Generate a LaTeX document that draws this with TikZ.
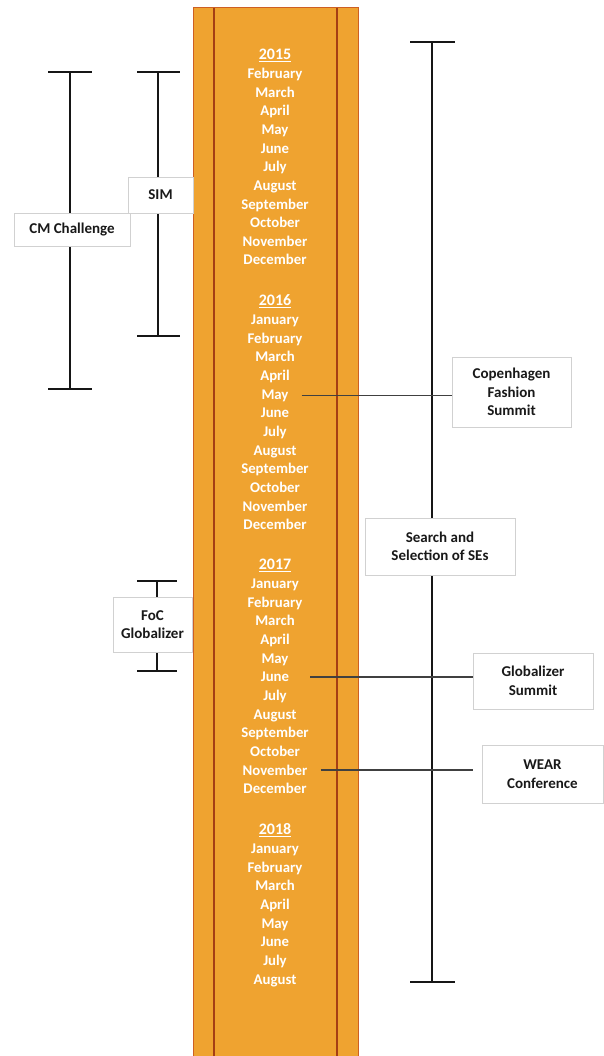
\documentclass[tikz,border=0pt]{standalone}
\usepackage{fontspec}
\setmainfont{Carlito}
\definecolor{barfill}{RGB}{239,163,48}
\definecolor{baredge}{RGB}{205,95,35}
\definecolor{barline}{RGB}{165,62,20}
\definecolor{rulecol}{RGB}{22,22,22}
\newcommand\mname[1]{\ifcase#1\or January\or February\or March\or April\or May\or June\or July\or August\or September\or October\or November\or December\fi}

\begin{document}
\begin{tikzpicture}[x=1pt,y=-1pt,
  month/.style={text=white, font=\fontsize{14.8}{17}\selectfont\bfseries, anchor=base, inner sep=1pt},
  yearlbl/.style={month, font=\fontsize{16}{17}\selectfont\bfseries},
  eventbox/.style={draw=black!18, fill=white, align=center, inner sep=2pt,
    font=\fontsize{15}{18.5}\selectfont\bfseries, text=black!90},
  span/.style={line width=2.8pt, draw=rulecol},
  conn/.style={line width=1.3pt, draw=black!75}]
\useasboundingbox (0,0) rectangle (603,1056);

% timeline bar
\fill[barfill] (193,8) rectangle (358,1056);
\draw[baredge, line width=1pt] (193,1056) -- (193,8) -- (358,8) -- (358,1056);
\draw[barline, line width=1.1pt] (214,8) -- (214,1056);
\draw[barline, line width=1.1pt] (337,8) -- (337,1056);

% years and months
\foreach \yr/\ytop/\first/\last in {2015/54/2/12, 2016/300/1/12, 2017/564/1/12, 2018/829/1/8}{
  \node[yearlbl] (y\yr) at (275,\ytop+5.5) {\underline{\yr}};
  \foreach \m in {\first,...,\last}{
    \pgfmathsetmacro\yy{\ytop+19.5+(\m-\first)*18.65+5}
    \node[month] (m\yr-\m) at (275,\yy) {\mname{\m}};
  }
}

% CM Challenge span
\coordinate (cmT) at (70,72);
\coordinate (cmB) at (70,389);
\draw[span] (cmT) -- (cmB);
\draw[span] ([xshift=-22pt]cmT) -- ([xshift=22pt]cmT);
\draw[span] ([xshift=-22pt]cmB) -- ([xshift=22pt]cmB);

% SIM span
\coordinate (simT) at (158,72);
\coordinate (simB) at (158,336);
\draw[span] (simT) -- (simB);
\draw[span] ([xshift=-21pt]simT) -- ([xshift=22pt]simT);
\draw[span] ([xshift=-21pt]simB) -- ([xshift=22pt]simB);

% FoC Globalizer span
\coordinate (focT) at (157,581);
\coordinate (focB) at (157,671);
\draw[span] (focT) -- (focB);
\draw[span] ([xshift=-20pt]focT) -- ([xshift=20pt]focT);
\draw[span] ([xshift=-20pt]focB) -- ([xshift=20pt]focB);

% Search and Selection span
\coordinate (ssT) at (432,42);
\coordinate (ssB) at (432,982);
\draw[span] (ssT) -- (ssB);
\draw[span] ([xshift=-22pt]ssT) -- ([xshift=23pt]ssT);
\draw[span] ([xshift=-22pt]ssB) -- ([xshift=23pt]ssB);

% span labels
\node[eventbox, minimum width=65pt, minimum height=36pt] (sim) at (160.5,195) {SIM};
\node[eventbox, minimum width=116pt, minimum height=33pt] (cm) at (72,229.5) {CM Challenge};
\node[eventbox, minimum width=79pt, minimum height=55pt] (foc) at (152.5,624.5) {FoC\\Globalizer};
\node[eventbox, minimum width=150pt, minimum height=57pt] (ss) at (440,546.5) {Search and\\Selection of SEs};

% single events
\node[eventbox, minimum width=119pt, minimum height=70pt] (cfs) at (511.5,392) {Copenhagen\\Fashion\\Summit};
\node[eventbox, minimum width=120pt, minimum height=56pt] (gs) at (533,681) {Globalizer\\Summit};
\node[eventbox, minimum width=121pt, minimum height=58pt] (wear) at (542.5,774) {WEAR\\Conference};

\coordinate (cfsA) at ([xshift=12pt]m2016-5.east);
\draw[conn] (cfsA) -- (cfsA -| cfs.west);
\coordinate (gsA) at ([xshift=20pt]m2017-6.east);
\draw[conn] (gsA) -- (gsA -| gs.west);
\coordinate (wearA) at ([xshift=12pt]m2017-11.east);
\draw[conn] (wearA) -- (wearA -| gs.west);
\end{tikzpicture}
\end{document}
